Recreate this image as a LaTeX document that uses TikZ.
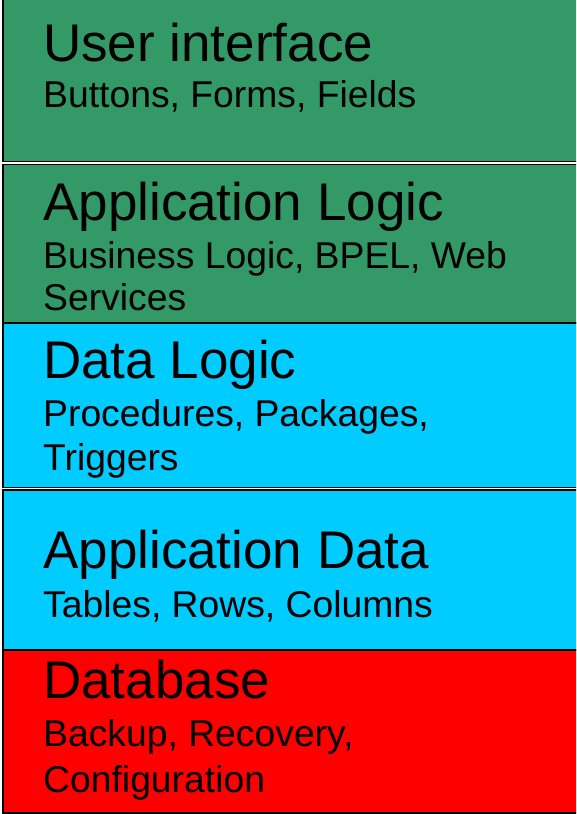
\documentclass[tikz,border=0pt]{standalone}
\usepackage{fontspec}
\setmainfont{Liberation Sans}
\definecolor{layergreen}{RGB}{51,153,102}
\definecolor{layercyan}{RGB}{0,204,255}
\definecolor{layerred}{RGB}{255,0,0}
\begin{document}
\begin{tikzpicture}[x=1pt,y=-1pt,
  layer/.style={draw=black,line width=1.3pt},
  ttl/.style={anchor=base west,inner sep=0pt,font=\fontsize{53}{53}\selectfont},
  sub/.style={anchor=base west,inner sep=0pt,font=\fontsize{37.3}{37.3}\selectfont}]
\useasboundingbox (0,0) rectangle (576,814);
\clip (0,0) rectangle (576,814);
\fill[white] (0,0) rectangle (576,814);
\path[layer,fill=layergreen] (3,-5) rectangle (620,161.5);
\path[layer,fill=layergreen] (3,164.5) rectangle (620,323);
\path[layer,fill=layercyan] (3,323) rectangle (620,487.5);
\path[layer,fill=layercyan] (3,490) rectangle (620,650);
\path[layer,fill=layerred] (3,650) rectangle (620,813);
\node[ttl] (t1) at (43,61) {User interface};
\node[sub] (s1) at (43,107) {Buttons, Forms, Fields};
\node[ttl] (t2) at (43,220) {Application Logic};
\node[sub] (s2a) at (43,268) {Business Logic, BPEL, Web};
\node[sub] (s2b) at (43,310) {Services};
\node[ttl] (t3) at (43,378) {Data Logic};
\node[sub] (s3a) at (43,426) {Procedures, Packages,};
\node[sub] (s3b) at (43,470) {Triggers};
\node[ttl] (t4) at (43,568) {Application Data};
\node[sub] (s4) at (43,617) {Tables, Rows, Columns};
\node[ttl] (t5) at (43,698) {Database};
\node[sub] (s5a) at (43,746) {Backup, Recovery,};
\node[sub] (s5b) at (43,792) {Configuration};
\end{tikzpicture}
\end{document}
